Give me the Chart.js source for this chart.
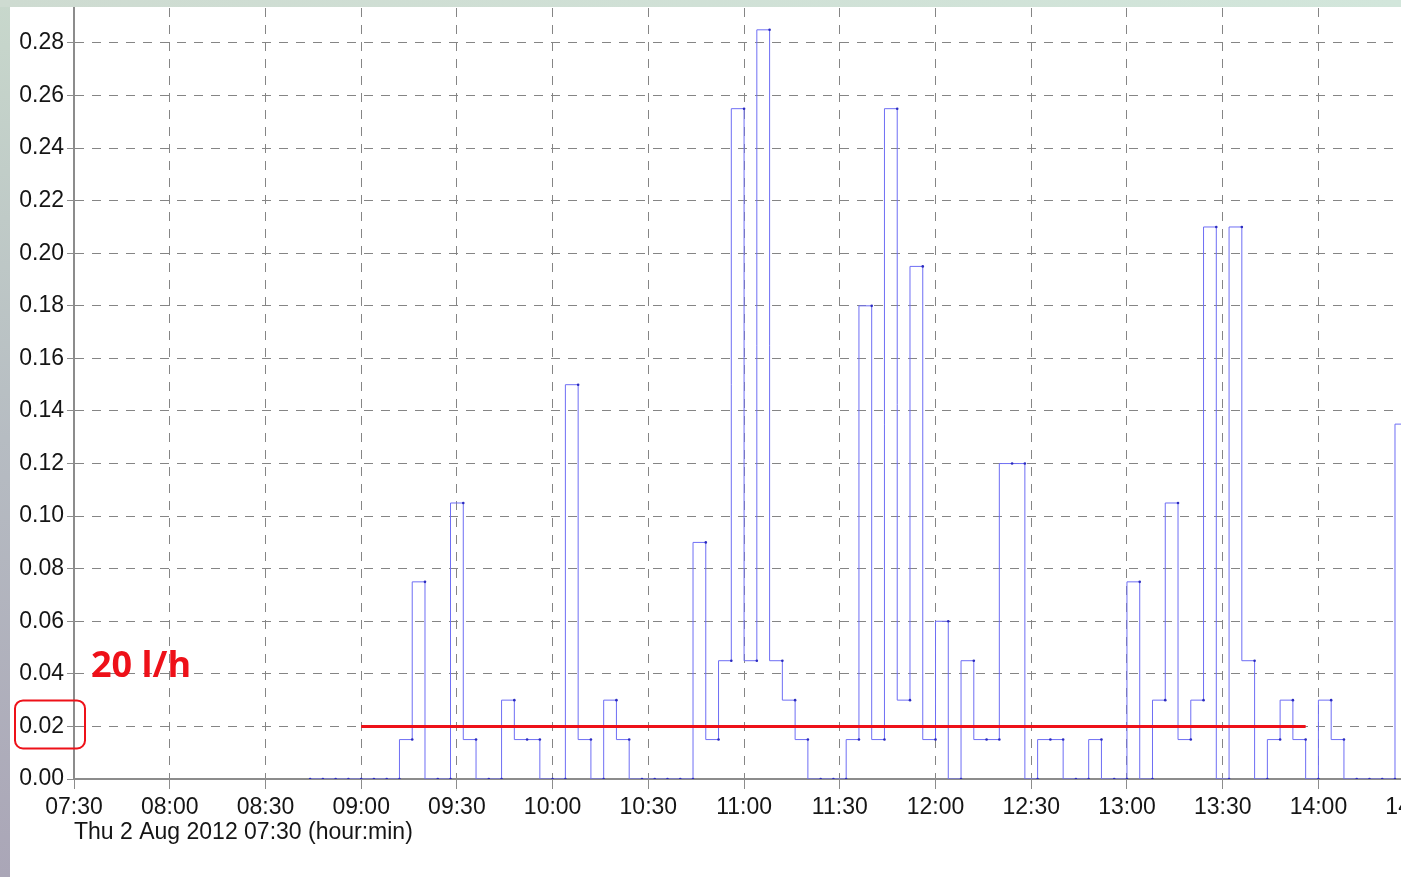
<!DOCTYPE html>
<html>
<head>
<meta charset="utf-8">
<title>Flow 2 Aug 2012</title>
<script src="https://cdn.jsdelivr.net/npm/chart.js@4.4.1/dist/chart.umd.min.js"></script>
<style>
  html, body { margin: 0; padding: 0; width: 1401px; height: 877px; overflow: hidden; background: #fff; }
  #edge-left { position: absolute; left: 0; top: 0; width: 10px; height: 877px; background: linear-gradient(#c8d8cc, #b6bcc2 50%, #aaa6b7); }
  #edge-top { position: absolute; left: 0; top: 0; width: 1401px; height: 7px; background: linear-gradient(90deg, #cedbd1, #d2e6db); }
  #wrap { position: absolute; left: 0; top: 0; width: 1480px; height: 877px; }
</style>
</head>
<body>
<div id="edge-left"></div>
<div id="edge-top"></div>
<div id="wrap"><canvas id="flowChart"></canvas></div>
<script>
// samples every 4 min, value counts for the 4 min ending at that time
const sampleTimes = [
  "08:44", "08:48", "08:52", "08:56", "09:00", "09:04", "09:08", "09:12", "09:16", "09:20",
  "09:24", "09:28", "09:32", "09:36", "09:40", "09:44", "09:48", "09:52", "09:56", "10:00",
  "10:04", "10:08", "10:12", "10:16", "10:20", "10:24", "10:28", "10:32", "10:36", "10:40",
  "10:44", "10:48", "10:52", "10:56", "11:00", "11:04", "11:08", "11:12", "11:16", "11:20",
  "11:24", "11:28", "11:32", "11:36", "11:40", "11:44", "11:48", "11:52", "11:56", "12:00",
  "12:04", "12:08", "12:12", "12:16", "12:20", "12:24", "12:28", "12:32", "12:36", "12:40",
  "12:44", "12:48", "12:52", "12:56", "13:00", "13:04", "13:08", "13:12", "13:16", "13:20",
  "13:24", "13:28", "13:32", "13:36", "13:40", "13:44", "13:48", "13:52", "13:56", "14:00",
  "14:04", "14:08", "14:12", "14:16", "14:20", "14:24", "14:28"
];
const flowValues = [
  0, 0, 0, 0, 0, 0, 0, 0, 0.015, 0.075,
  0, 0, 0.105, 0.015, 0, 0, 0.03, 0.015, 0.015, 0,
  0, 0.15, 0.015, 0, 0.03, 0.015, 0, 0, 0, 0,
  0, 0.09, 0.015, 0.045, 0.255, 0.045, 0.285, 0.045, 0.03, 0.015,
  0, 0, 0, 0.015, 0.18, 0.015, 0.255, 0.03, 0.195, 0.015,
  0.06, 0, 0.045, 0.015, 0.015, 0.12, 0.12, 0, 0.015, 0.015,
  0, 0, 0.015, 0, 0, 0.075, 0, 0.03, 0.105, 0.015,
  0.03, 0.21, 0, 0.21, 0.045, 0, 0.015, 0.03, 0.015, 0,
  0.03, 0.015, 0, 0, 0, 0, 0.135
];

const limitTimes = ["09:00", "13:56"];
const limitValues = [0.02, 0.02];
const limitLabel = "20 l/h";
const axisTitle = "Thu 2 Aug 2012 07:30 (hour:min)";
const xStart = "07:30";
const xEnd = "14:45";
const yMax = 0.2933;

function toMinutes(s) {
  const [h, m] = s.split(":").map(Number);
  return h * 60 + m;
}

function toClock(v) {
  const h = Math.floor(v / 60), m = Math.round(v % 60);
  return String(h).padStart(2, "0") + ":" + String(m).padStart(2, "0");
}

const RED = "#ee1119";
const tickFont = { family: "'Liberation Sans', Arial, sans-serif", size: 23 };

// red label + box round the 0.02 tick
const limitMarks = {
  id: "limitMarks",
  afterDraw(chart) {
    const { ctx, scales: { x, y } } = chart;
    ctx.save();
    ctx.fillStyle = RED;
    ctx.font = "bold 36px 'Open Sans', sans-serif";
    ctx.textBaseline = "alphabetic";
    ctx.fillText(limitLabel, x.left + 17, y.getPixelForValue(0.04) + 3);

    const cy = y.getPixelForValue(limitValues[0]) - 2;
    ctx.strokeStyle = RED;
    ctx.lineWidth = 2;
    ctx.beginPath();
    ctx.roundRect(x.left - 59, cy - 24, 70, 48, 8);
    ctx.stroke();
    ctx.restore();
  }
};

new Chart(document.getElementById("flowChart").getContext("2d"), {
  type: "line",
  data: {
    datasets: [
      {
        data: limitTimes.map((t, i) => ({ x: toMinutes(t), y: limitValues[i] })),
        borderColor: RED,
        borderWidth: 3,
        pointRadius: 0
      },
      {
        data: sampleTimes.map((t, i) => ({ x: toMinutes(t), y: flowValues[i] })),
        borderColor: "#6e6ef4",
        borderWidth: 1,
        stepped: "after",
        pointRadius: 1.3,
        pointBorderWidth: 0,
        pointBackgroundColor: "#2b2bbf"
      }
    ]
  },
  options: {
    responsive: true,
    maintainAspectRatio: false,
    animation: false,
    layout: { padding: { top: 8, right: 18, left: 0, bottom: 0 } },
    plugins: { legend: { display: false }, tooltip: { enabled: false } },
    scales: {
      x: {
        type: "linear",
        min: toMinutes(xStart),
        max: toMinutes(xEnd),
        afterFit(scale) { scale.height = 98; },
        ticks: {
          stepSize: 30, includeBounds: false, autoSkip: false, maxRotation: 0,
          padding: 5, color: "#151515", font: tickFont,
          callback: v => toClock(v)
        },
        grid: { color: "#858585", lineWidth: 1, tickLength: 10, tickColor: "#8c8c8c", tickBorderDash: [] },
        border: { color: "#8c8c8c", width: 2, dash: [9, 8] },
        title: {
          display: true, text: axisTitle, align: "start", color: "#151515",
          font: { family: tickFont.family, size: 23 },
          padding: { top: 0, bottom: 31 }
        }
      },
      y: {
        min: 0,
        max: yMax,
        afterFit(scale) {
          scale.width = 74;
          scale.paddingTop = 0;
          scale.paddingBottom = 0;
        },
        ticks: {
          stepSize: 0.02, includeBounds: false, padding: 3,
          color: "#151515", font: tickFont,
          callback: v => v.toFixed(2)
        },
        grid: { color: "#858585", lineWidth: 1, tickLength: 7, tickColor: "#8c8c8c", tickBorderDash: [] },
        border: { color: "#8c8c8c", width: 2, dash: [9, 8] }
      }
    }
  },
  plugins: [limitMarks]
});
</script>
</body>
</html>
